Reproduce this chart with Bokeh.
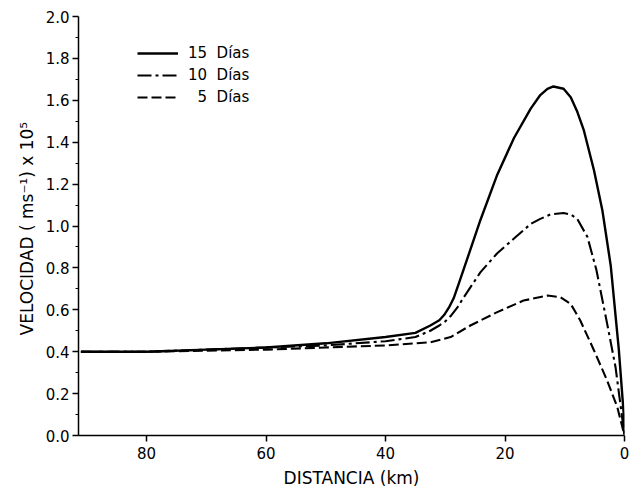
from bokeh.plotting import figure
from bokeh.models import Range1d, FixedTicker, PrintfTickFormatter, Legend, LegendItem
from bokeh.embed import file_html
from bokeh.resources import INLINE

# ---- data ----
x15 = [91, 80, 70, 60, 50, 40, 35, 32.5, 31, 30.2, 29.4, 28.6, 27.8, 26.9, 24.1, 21.3, 18.5, 15.7, 14.1, 12.9, 11.9, 10.2, 9.0, 7.9, 6.8, 5.1, 3.7, 2.3, 0.95, 0.1, 0]
y15 = [0.40, 0.40, 0.41, 0.42, 0.44, 0.47, 0.49, 0.525, 0.55, 0.575, 0.61, 0.655, 0.72, 0.795, 1.03, 1.245, 1.42, 1.56, 1.625, 1.655, 1.666, 1.655, 1.615, 1.545, 1.456, 1.265, 1.074, 0.81, 0.41, 0.09, 0.0]

x10 = [91, 80, 70, 60, 50, 40, 35, 32.5, 31, 30, 29.1, 28, 26.9, 24.1, 21.3, 18.5, 15.7, 14.1, 12.4, 10.2, 9.0, 7.9, 6.2, 4.7, 2.9, 1.5, 0.4, 0]
y10 = [0.40, 0.40, 0.41, 0.42, 0.43, 0.45, 0.47, 0.50, 0.525, 0.545, 0.57, 0.61, 0.66, 0.78, 0.87, 0.94, 1.01, 1.034, 1.055, 1.062, 1.055, 1.034, 0.947, 0.79, 0.533, 0.326, 0.087, 0.0]

x5 = [91, 80, 70, 60, 50, 40, 35, 32.5, 29.1, 25.8, 21.3, 16.9, 12.9, 10.7, 9.0, 7.4, 5.1, 2.9, 1.2, 0]
y5 = [0.40, 0.40, 0.405, 0.41, 0.42, 0.43, 0.44, 0.445, 0.47, 0.525, 0.589, 0.644, 0.668, 0.66, 0.628, 0.549, 0.406, 0.262, 0.135, 0.0]

x_ticks = [0, 20, 40, 60, 80]
y_ticks = [0.0, 0.2, 0.4, 0.6, 0.8, 1.0, 1.2, 1.4, 1.6, 1.8, 2.0]
y_minor = [0.1, 0.3, 0.5, 0.7, 0.9, 1.1, 1.3, 1.5, 1.7, 1.9]
labels = ["15  Días", "10  Días", "\u20075  Días"]

FONT = "DejaVu Sans"

p = figure(width=629, height=493, output_backend="svg", toolbar_location=None,
           x_range=Range1d(91.4, 0), y_range=Range1d(0, 2.0),
           min_border_left=78, min_border_right=5, min_border_top=16, min_border_bottom=58)
p.outline_line_color = None
p.xgrid.visible = False
p.ygrid.visible = False
p.background_fill_color = "white"

r15 = p.line(x15, y15, line_color="black", line_width=2.4, line_join="round")
r10 = p.line(x10, y10, line_color="black", line_width=2.1, line_dash="14 4 3 4", line_join="round")
r5 = p.line(x5, y5, line_color="black", line_width=2.1, line_dash="10 4", line_join="round")

# axes
xa = p.xaxis[0]
xa.ticker = FixedTicker(ticks=x_ticks)
xa.axis_label = "DISTANCIA (km)"
ya = p.yaxis[0]
ya.ticker = FixedTicker(ticks=y_ticks, minor_ticks=y_minor)
ya.formatter = PrintfTickFormatter(format="%.1f")
ya.axis_label = "VELOCIDAD  ( ms\u207b\u00b9) x 10\u2075"
for ax in (xa, ya):
    ax.axis_line_color = "black"
    ax.axis_line_width = 1.5
    ax.major_tick_line_color = "black"
    ax.major_tick_line_width = 1.5
    ax.major_tick_in = 0
    ax.major_tick_out = 6
    ax.minor_tick_line_color = "black"
    ax.minor_tick_in = 0
    ax.minor_tick_out = 3
    ax.major_label_text_font = FONT
    ax.major_label_text_font_size = "15px"
    ax.major_label_text_color = "black"
    ax.axis_label_text_font = FONT
    ax.axis_label_text_font_size = "17px"
    ax.axis_label_text_font_style = "normal"
    ax.axis_label_text_color = "black"
xa.minor_tick_line_color = None
ya.major_label_standoff = 3
ya.axis_label_standoff = 6
xa.major_label_standoff = 5
xa.axis_label_standoff = 6

legend = Legend(items=[LegendItem(label=labels[0], renderers=[r15]),
                       LegendItem(label=labels[1], renderers=[r10]),
                       LegendItem(label=labels[2], renderers=[r5])],
                location=(59, 327))
legend.border_line_color = None
legend.background_fill_alpha = 0
legend.padding = 0
legend.margin = 0
legend.spacing = 0
legend.glyph_width = 41
legend.glyph_height = 22
legend.label_height = 22
legend.label_standoff = 10
legend.label_text_font = FONT
legend.label_text_font_size = "15px"
legend.label_text_color = "black"
p.add_layout(legend, "center")

open("out.html", "w").write(file_html(p, INLINE))
